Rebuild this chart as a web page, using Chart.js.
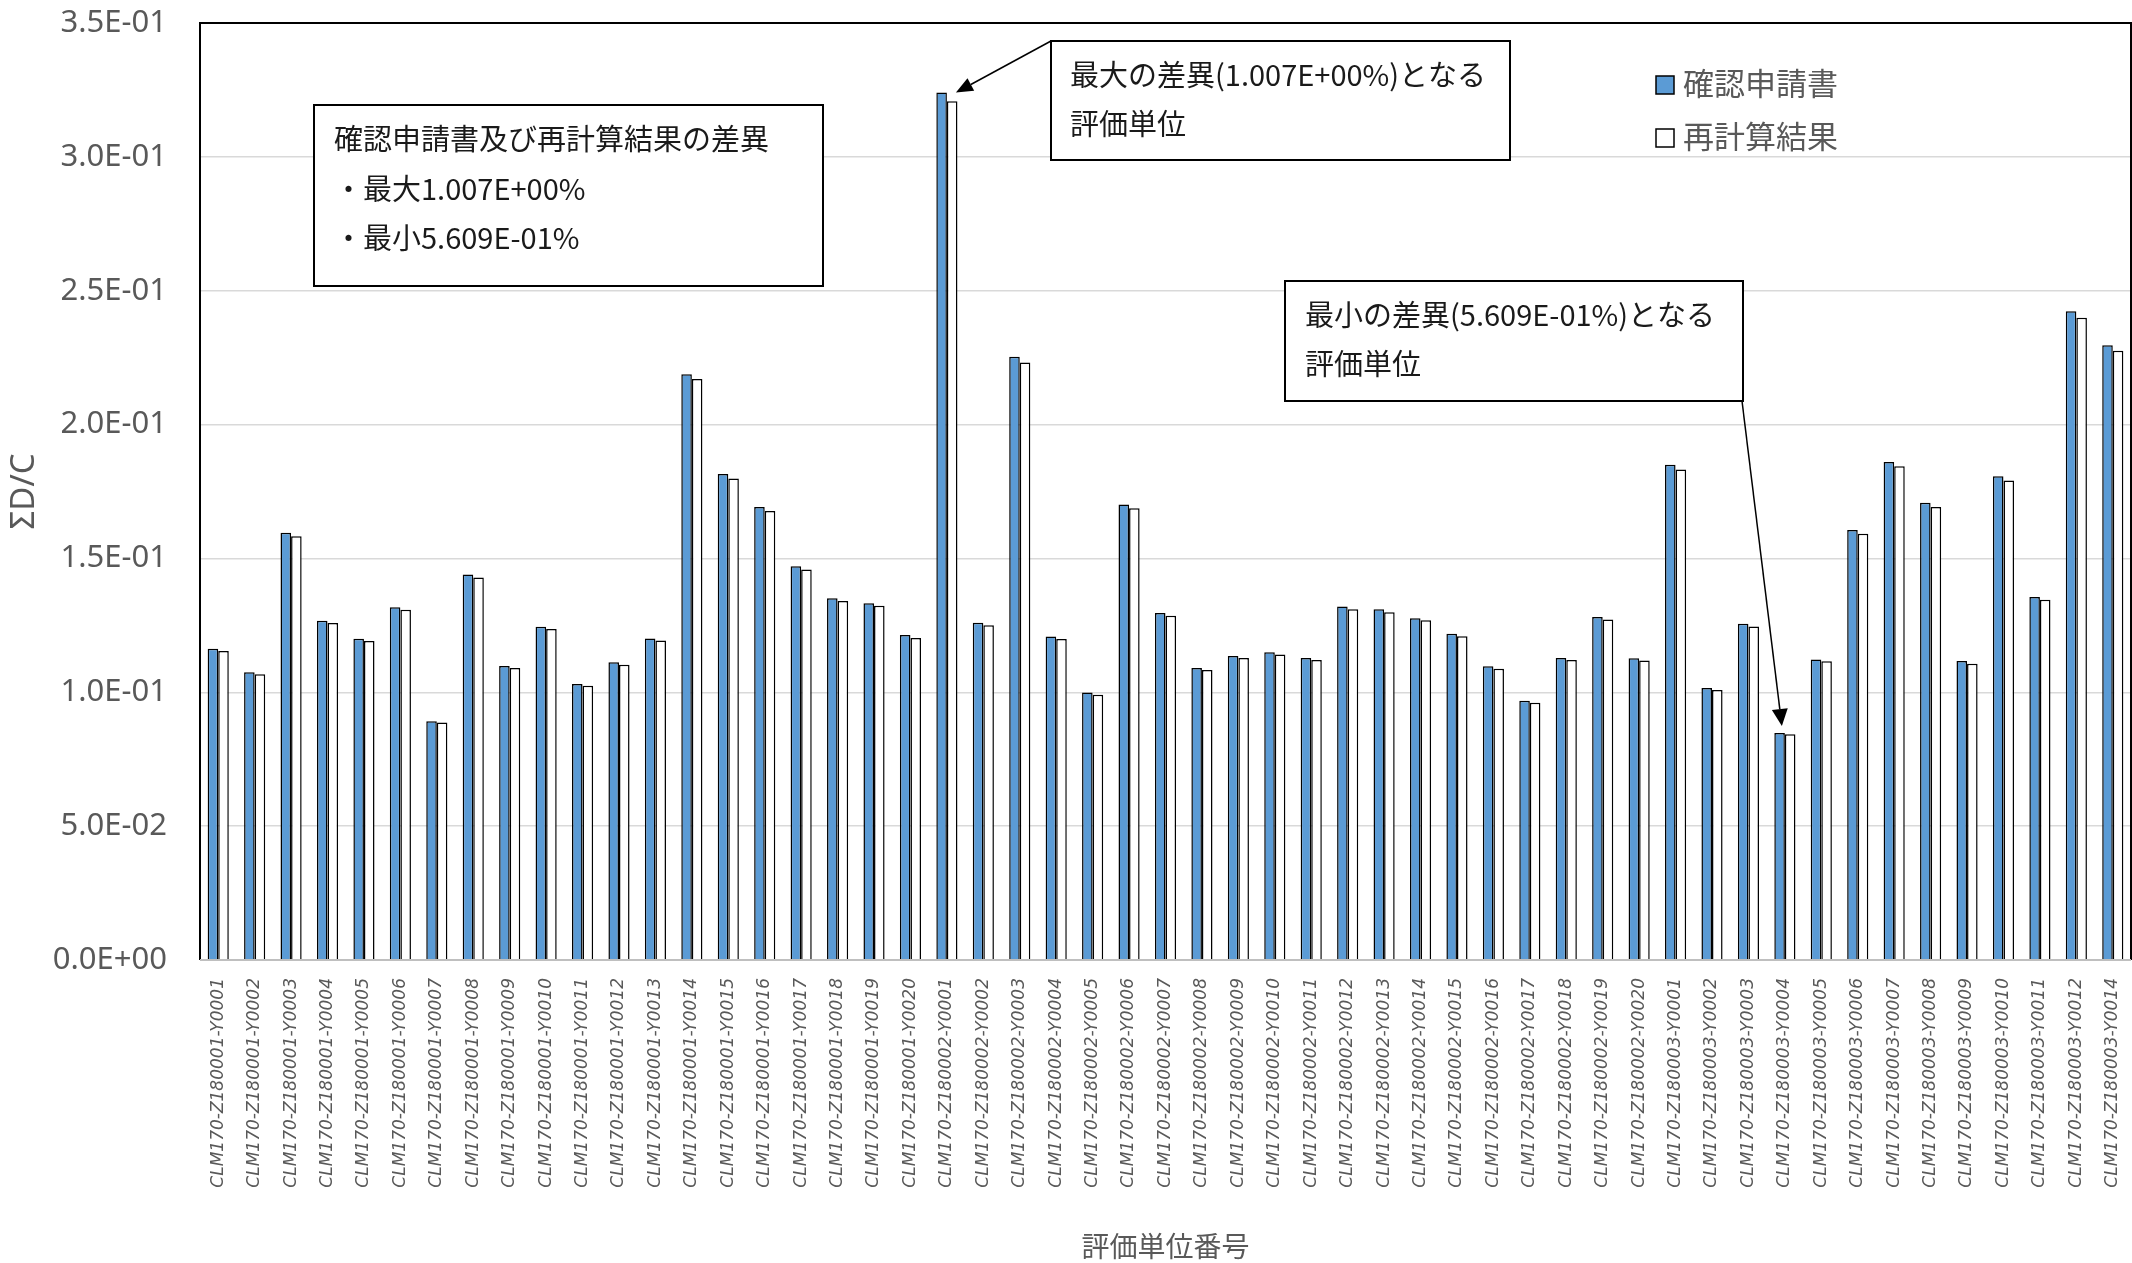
<!DOCTYPE html>
<html lang="ja">
<head>
<meta charset="utf-8">
<script src="https://cdn.jsdelivr.net/npm/chart.js@4.4.1/dist/chart.umd.min.js"></script>
<style>
    html, body { margin: 0; padding: 0; background: #fff; }
    #chart1 { display: block; }
</style>
</head>
<body>
<canvas id="chart1" width="2132" height="1263"></canvas>
<script>
"use strict";

// 評価単位番号
const unitLabels = [
    "CLM170-Z180001-Y0001", "CLM170-Z180001-Y0002", "CLM170-Z180001-Y0003", "CLM170-Z180001-Y0004",
    "CLM170-Z180001-Y0005", "CLM170-Z180001-Y0006", "CLM170-Z180001-Y0007", "CLM170-Z180001-Y0008",
    "CLM170-Z180001-Y0009", "CLM170-Z180001-Y0010", "CLM170-Z180001-Y0011", "CLM170-Z180001-Y0012",
    "CLM170-Z180001-Y0013", "CLM170-Z180001-Y0014", "CLM170-Z180001-Y0015", "CLM170-Z180001-Y0016",
    "CLM170-Z180001-Y0017", "CLM170-Z180001-Y0018", "CLM170-Z180001-Y0019", "CLM170-Z180001-Y0020",
    "CLM170-Z180002-Y0001", "CLM170-Z180002-Y0002", "CLM170-Z180002-Y0003", "CLM170-Z180002-Y0004",
    "CLM170-Z180002-Y0005", "CLM170-Z180002-Y0006", "CLM170-Z180002-Y0007", "CLM170-Z180002-Y0008",
    "CLM170-Z180002-Y0009", "CLM170-Z180002-Y0010", "CLM170-Z180002-Y0011", "CLM170-Z180002-Y0012",
    "CLM170-Z180002-Y0013", "CLM170-Z180002-Y0014", "CLM170-Z180002-Y0015", "CLM170-Z180002-Y0016",
    "CLM170-Z180002-Y0017", "CLM170-Z180002-Y0018", "CLM170-Z180002-Y0019", "CLM170-Z180002-Y0020",
    "CLM170-Z180003-Y0001", "CLM170-Z180003-Y0002", "CLM170-Z180003-Y0003", "CLM170-Z180003-Y0004",
    "CLM170-Z180003-Y0005", "CLM170-Z180003-Y0006", "CLM170-Z180003-Y0007", "CLM170-Z180003-Y0008",
    "CLM170-Z180003-Y0009", "CLM170-Z180003-Y0010", "CLM170-Z180003-Y0011", "CLM170-Z180003-Y0012",
    "CLM170-Z180003-Y0014",
];

// 確認申請書の値
const applicationValues = [
    0.1163, 0.1075, 0.1596, 0.1267, 0.1200, 0.1318, 0.0892, 0.1440, 0.1098, 0.1245,
    0.1031, 0.1112, 0.1201, 0.2188, 0.1815, 0.1692, 0.1471, 0.1351, 0.1333, 0.1214,
    0.3240, 0.1260, 0.2253, 0.1208, 0.0999, 0.1701, 0.1296, 0.1091, 0.1136, 0.1150,
    0.1128, 0.1320, 0.1310, 0.1277, 0.1219, 0.1097, 0.0968, 0.1128, 0.1281, 0.1127,
    0.1850, 0.1016, 0.1256, 0.0848, 0.1122, 0.1606, 0.1860, 0.1708, 0.1117, 0.1807,
    0.1356, 0.2423, 0.2296,
];

// 再計算結果の値
const recalcValues = [
    0.1154, 0.1067, 0.1583, 0.1259, 0.1192, 0.1308, 0.0887, 0.1429, 0.1091, 0.1236,
    0.1024, 0.1103, 0.1193, 0.2170, 0.1799, 0.1677, 0.1459, 0.1341, 0.1323, 0.1203,
    0.3208, 0.1250, 0.2232, 0.1199, 0.0991, 0.1687, 0.1286, 0.1083, 0.1128, 0.1141,
    0.1121, 0.1310, 0.1299, 0.1269, 0.1209, 0.1088, 0.0961, 0.1121, 0.1272, 0.1119,
    0.1832, 0.1009, 0.1246, 0.0843, 0.1116, 0.1592, 0.1844, 0.1692, 0.1107, 0.1791,
    0.1346, 0.2399, 0.2276,
];

// 縦軸の目盛り
const yTickValues = [0, 0.05, 0.1, 0.15, 0.2, 0.25, 0.3, 0.35];

const seriesNames = ["確認申請書", "再計算結果"];
const xAxisTitle = "評価単位番号";
const yAxisTitle = "ΣD/C";

// 吹き出しの文言
const summaryLines = ["確認申請書及び再計算結果の差異", "・最大1.007E+00%", "・最小5.609E-01%"];
const maxNoteLines = ["最大の差異(1.007E+00%)となる", "評価単位"];
const minNoteLines = ["最小の差異(5.609E-01%)となる", "評価単位"];
const maxIndex = 20;
const minIndex = 43;

const JP_FONT = "'Noto Sans CJK JP', 'Noto Sans', sans-serif";

const toExcelSci = (value) => {
    // 3.5E-01 のような表記にする
    const [mant, exp] = Number(value).toExponential(1).split("e");
    const n = parseInt(exp, 10);
    return `${mant}E${n < 0 ? "-" : "+"}${String(Math.abs(n)).padStart(2, "0")}`;
};

const drawArrow = (ctx, x1, y1, x2, y2, headLen, headHalf) => {
    const ang = Math.atan2(y2 - y1, x2 - x1);
    const bx = x2 - headLen * Math.cos(ang);
    const by = y2 - headLen * Math.sin(ang);
    ctx.beginPath();
    ctx.moveTo(x1, y1);
    ctx.lineTo(bx, by);
    ctx.stroke();
    ctx.beginPath();
    ctx.moveTo(x2, y2);
    ctx.lineTo(bx + headHalf * Math.sin(ang), by - headHalf * Math.cos(ang));
    ctx.lineTo(bx - headHalf * Math.sin(ang), by + headHalf * Math.cos(ang));
    ctx.closePath();
    ctx.fill();
};

const drawNoteBox = (ctx, box, lines, lineYs) => {
    ctx.fillStyle = "#ffffff";
    ctx.fillRect(box.x, box.y, box.w, box.h);
    ctx.strokeStyle = "#000000";
    ctx.lineWidth = 2;
    ctx.strokeRect(box.x, box.y, box.w, box.h);
    ctx.fillStyle = "#1a1a1a";
    ctx.font = `29px ${JP_FONT}`;
    ctx.textAlign = "left";
    ctx.textBaseline = "middle";
    lines.forEach((line, i) => {
        ctx.fillText(line, box.x + box.tx, box.y + lineYs[i]);
    });
};

// 枠線・凡例・吹き出し
const decorPlugin = {
    id: "decor",
    afterDatasetsDraw(chart) {
        const { ctx, chartArea: a } = chart;
        ctx.save();
        ctx.strokeStyle = "#000000";
        ctx.lineWidth = 2;
        ctx.beginPath();
        ctx.moveTo(a.left, a.bottom);
        ctx.lineTo(a.left, a.top);
        ctx.lineTo(a.right, a.top);
        ctx.lineTo(a.right, a.bottom);
        ctx.stroke();
        ctx.strokeStyle = "#bfbfbf";
        ctx.beginPath();
        ctx.moveTo(a.left, a.bottom);
        ctx.lineTo(a.right, a.bottom);
        ctx.stroke();
        ctx.restore();
    },
    afterDraw(chart) {
        const { ctx } = chart;
        const xs = chart.scales.x;
        const ys = chart.scales.y;
        ctx.save();

        // 凡例
        chart.data.datasets.forEach((ds, i) => {
            const top = 76 + i * 53;
            ctx.fillStyle = ds.backgroundColor;
            ctx.fillRect(1656, top, 18, 18);
            ctx.strokeStyle = "#000000";
            ctx.lineWidth = 1.5;
            ctx.strokeRect(1656, top, 18, 18);
            ctx.fillStyle = "#595959";
            ctx.font = `31px ${JP_FONT}`;
            ctx.textAlign = "left";
            ctx.textBaseline = "middle";
            ctx.fillText(ds.label, 1683, top + 7);
        });

        // 吹き出し
        drawNoteBox(ctx, { x: 314, y: 105, w: 509, h: 181, tx: 20 }, summaryLines, [34, 84, 133]);
        drawNoteBox(ctx, { x: 1051, y: 41, w: 459, h: 119, tx: 19 }, maxNoteLines, [34, 83]);
        drawNoteBox(ctx, { x: 1285, y: 281, w: 458, h: 120, tx: 20 }, minNoteLines, [34, 83]);

        // 矢印
        ctx.strokeStyle = "#000000";
        ctx.fillStyle = "#000000";
        ctx.lineWidth = 1.5;
        drawArrow(ctx, 1051, 41,
            xs.getPixelForValue(maxIndex) + 9, ys.getPixelForValue(applicationValues[maxIndex]), 17, 7);
        drawArrow(ctx, 1742, 401,
            xs.getPixelForValue(minIndex) - 3, ys.getPixelForValue(applicationValues[minIndex]) - 7, 17, 8);

        ctx.restore();
    },
};

const chartData = {
    labels: unitLabels,
    datasets: [
        {
            label: seriesNames[0],
            data: applicationValues,
            backgroundColor: "#5b9bd5",
            borderColor: "#000000",
            borderWidth: 1.5,
        },
        {
            label: seriesNames[1],
            data: recalcValues,
            backgroundColor: "#ffffff",
            borderColor: "#000000",
            borderWidth: 1.5,
        },
    ],
};

const chartOptions = {
    responsive: false,
    animation: false,
    devicePixelRatio: 1,
    layout: { padding: { top: 23, right: 1, left: 0, bottom: 0 } },
    datasets: { bar: { categoryPercentage: 0.58, barPercentage: 1.0 } },
    plugins: {
        legend: { display: false },
        tooltip: { enabled: false },
    },
    scales: {
        x: {
            grid: { display: false, drawTicks: false },
            border: { display: false },
            ticks: {
                autoSkip: false,
                minRotation: 90,
                maxRotation: 90,
                padding: 18,
                color: "#595959",
                font: { family: "'DejaVu Sans'", size: 17, style: "italic" },
            },
            title: {
                display: true,
                text: xAxisTitle,
                color: "#595959",
                font: { family: JP_FONT, size: 28 },
                padding: 0,
            },
            afterFit(scale) {
                scale.height = 303;
                scale.paddingLeft = 0;
                scale.paddingRight = 0;
            },
        },
        y: {
            min: 0,
            max: 0.35,
            grid: { color: "#d9d9d9", lineWidth: 1.5, drawTicks: false },
            border: { display: false },
            afterBuildTicks(scale) {
                scale.ticks = yTickValues.map((v) => ({ value: v }));
            },
            ticks: {
                padding: 33,
                color: "#595959",
                font: { family: "'Noto Sans'", size: 31 },
                callback: (v) => toExcelSci(v),
            },
            title: {
                display: true,
                text: yAxisTitle,
                color: "#595959",
                font: { family: "'Noto Sans'", size: 33 },
                padding: 5,
            },
            afterFit(scale) {
                scale.width = 200;
                scale.paddingTop = 0;
                scale.paddingBottom = 0;
            },
        },
    },
};

const context = document.getElementById("chart1").getContext("2d");
const myChart = new Chart(context, {
    type: "bar",
    data: chartData,
    options: chartOptions,
    plugins: [decorPlugin],
});
</script>
</body>
</html>
